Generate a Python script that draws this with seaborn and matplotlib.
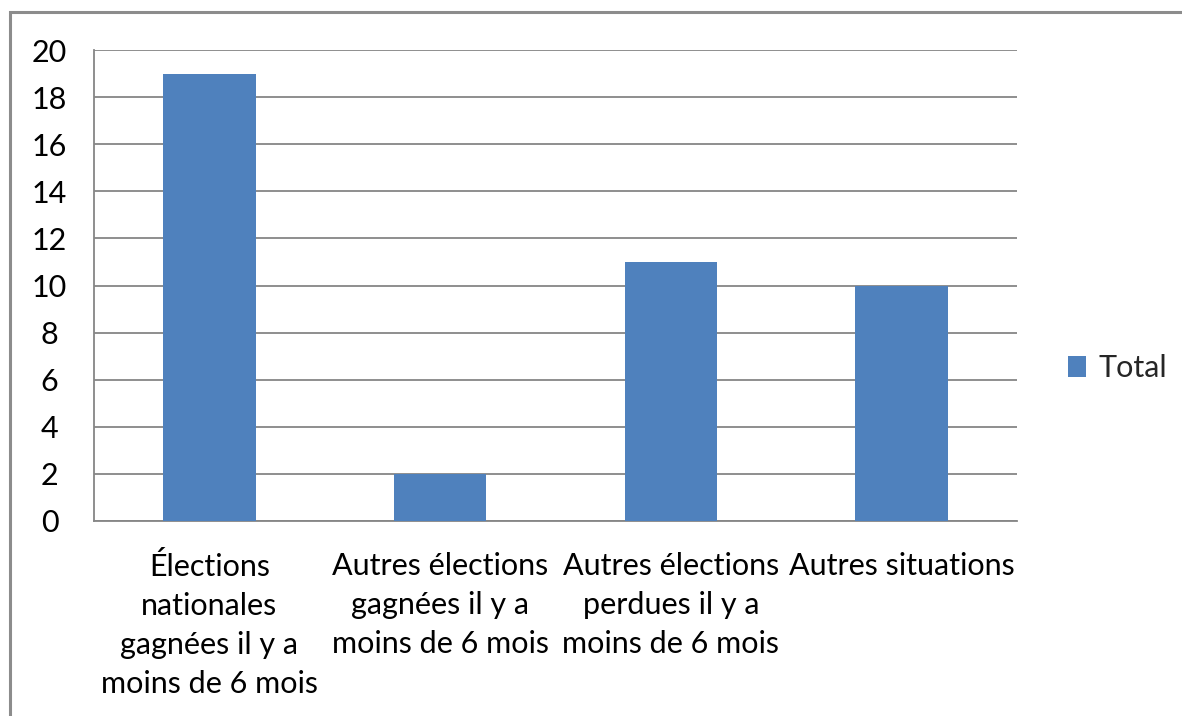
import matplotlib
matplotlib.use("Agg")
import matplotlib.pyplot as plt
import seaborn as sns
import pandas as pd
from matplotlib.patches import Rectangle

# data
categories = [
    "Élections\nnationales\ngagnées il y a\nmoins de 6 mois",
    "Autres élections\ngagnées il y a\nmoins de 6 mois",
    "Autres élections\nperdues il y a\nmoins de 6 mois",
    "Autres situations",
]
values = [19, 2, 11, 10]
series_name = "Total"
y_ticks = list(range(0, 21, 2))

bar_color = "#4F81BD"
grid_color = "#868686"

sns.set_theme(style="white")
plt.rcParams["font.family"] = ["Lato", "DejaVu Sans"]

df = pd.DataFrame({"cat": categories, "val": values})

fig = plt.figure(figsize=(11.82, 7.16), dpi=100)
ax = fig.add_axes([94 / 1182, 1 - 521 / 716, (1017 - 94) / 1182, (521 - 50) / 716])

sns.barplot(data=df, x="cat", y="val", color=bar_color, width=0.4,
            saturation=1, label=series_name, ax=ax, zorder=3, linewidth=0)

ax.set_xlim(-0.5, len(categories) - 0.5)
ax.set_ylim(0, 20)
ax.set_yticks(y_ticks)
ax.set_xlabel("")
ax.set_ylabel("")

# gridlines like excel
ax.yaxis.grid(True, color=grid_color, linewidth=1.3)
ax.set_axisbelow(True)
for s in ["top", "right"]:
    ax.spines[s].set_visible(False)
for s in ["left", "bottom"]:
    ax.spines[s].set_color(grid_color)
    ax.spines[s].set_linewidth(1.3)

ax.tick_params(axis="y", length=7, width=1.3, color=grid_color, labelsize=22,
               pad=25, labelcolor="black")
for lbl in ax.get_yticklabels():
    lbl.set_horizontalalignment("center")

# category separators as minor ticks
ax.set_xticks([i - 0.5 for i in range(len(categories) + 1)], minor=True)
ax.tick_params(axis="x", which="major", length=0, labelsize=22, pad=22)
ax.tick_params(axis="x", which="minor", length=7, width=1.3, color=grid_color,
               direction="out")
for lbl in ax.get_xticklabels():
    lbl.set_linespacing(1.48)
    lbl.set_color("black")

leg = ax.legend(loc="center left", bbox_to_anchor=(1068 / 1182, 1 - 368 / 716),
                bbox_transform=fig.transFigure, frameon=False, borderpad=0,
                borderaxespad=0, fontsize=22, handlelength=0.6, handleheight=0.7,
                handletextpad=0.4)

# outer chart frame
fig.patches.append(Rectangle((10 / 1182, -0.1), 1.2, (716 - 12) / 716 + 0.1,
                             transform=fig.transFigure, fill=False,
                             edgecolor="#8C8C8C", linewidth=2.2))

fig.savefig("out.png", dpi=100)
